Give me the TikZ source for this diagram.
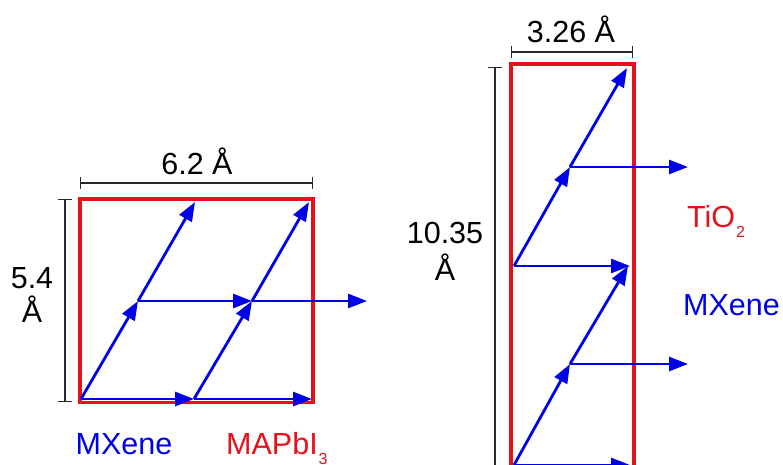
\documentclass[tikz,border=0pt]{standalone}
\usepackage{fontspec}
\setmainfont{Liberation Sans}
\usetikzlibrary{arrows.meta}
\definecolor{cellred}{RGB}{228,18,28}
\definecolor{vecblue}{RGB}{0,0,230}
\definecolor{dimgray}{RGB}{40,40,40}
\newcommand{\lowsub}[1]{\kern1pt\raisebox{-10.5pt}{\fontsize{16}{16}\selectfont #1}}
\begin{document}
\begin{tikzpicture}[x=1pt,y=-1pt,
  vec/.style={vecblue, line width=2.8pt, -{Triangle[length=19pt,width=14pt]}},
  cell/.style={cellred, line width=3.3pt},
  dim/.style={dimgray, line width=1.3pt},
  lbl/.style={inner sep=0pt, font=\fontsize{30.5}{36}\selectfont, anchor=base}]
\useasboundingbox (0,0) rectangle (783,464);
\clip (0,0) rectangle (783,464);

% ---------- left cell (MXene / MAPbI3) ----------
\draw[cell] (80,199) rectangle (313,402.5);
\coordinate (dLa) at (80,183);
\coordinate (dLb) at (313,183);
\draw[dim, {Bar[width=12pt]}-{Bar[width=12pt]}] (dLa) -- (dLb);
\coordinate (dLc) at (65,199);
\coordinate (dLd) at (65,402);
\draw[dim, {Bar[width=14pt]}-{Bar[width=14pt]}] (dLc) -- (dLd);
\node[lbl] (w1) at (197,174) {6.2 Å};
\node[lbl] (h1a) at (32,288) {5.4};
\node[lbl] (h1b) at (32,322) {Å};

\coordinate (O)  at (81,399);
\coordinate (A1) at (194,399);
\coordinate (A2) at (312,399);
\coordinate (B1) at (138,301);
\coordinate (B2) at (195,202);
\coordinate (C1) at (252,301);
\coordinate (C2) at (367,301);
\coordinate (D1) at (309,202);
\draw[vec] (O) -- (A1);
\draw[vec] (A1) -- (A2);
\draw[vec] (O) -- (B1);
\draw[vec] (B1) -- (B2);
\draw[vec] (B1) -- (C1);
\draw[vec] (C1) -- (C2);
\draw[vec] (A1) -- (C1);
\draw[vec] (C1) -- (D1);

\node[lbl, vecblue] (mx1) at (124,454) {MXene};
\node[lbl, cellred, anchor=base west] (mapbi) at (226,454) {MAPbI\lowsub{3}};

% ---------- right cell (MXene / TiO2) ----------
\draw[cell] (511,490) -- (511,64) -- (634,64) -- (634,490);
\coordinate (dRa) at (511,52);
\coordinate (dRb) at (633,52);
\draw[dim, {Bar[width=12pt]}-{Bar[width=12pt]}] (dRa) -- (dRb);
\coordinate (dRc) at (495,67);
\coordinate (dRd) at (495,490);
\draw[dim, {Bar[width=14pt]}-] (dRc) -- (dRd);
\node[lbl] (w2) at (571,42) {3.26 Å};
\node[lbl] (h2a) at (445,243) {10.35};
\node[lbl] (h2b) at (445,280) {Å};

\coordinate (Q0) at (514,465);
\coordinate (Q1) at (570,364);
\coordinate (Q2) at (628,266);
\coordinate (Q3) at (688,364);
\coordinate (Q4) at (630,465);
\coordinate (R0) at (514,266);
\coordinate (R1) at (570,167);
\coordinate (R2) at (627,68);
\coordinate (R3) at (688,167);
\coordinate (R4) at (630,266);
\draw[vec] (Q0) -- (Q4);
\draw[vec] (Q0) -- (Q1);
\draw[vec] (Q1) -- (Q2);
\draw[vec] (Q1) -- (Q3);
\draw[vec] (R0) -- (R4);
\draw[vec] (R0) -- (R1);
\draw[vec] (R1) -- (R2);
\draw[vec] (R1) -- (R3);

\node[lbl, cellred, anchor=base west] (tio2) at (687,227) {TiO\lowsub{2}};
\node[lbl, vecblue, anchor=base west] (mx2) at (683,315) {MXene};
\end{tikzpicture}
\end{document}
